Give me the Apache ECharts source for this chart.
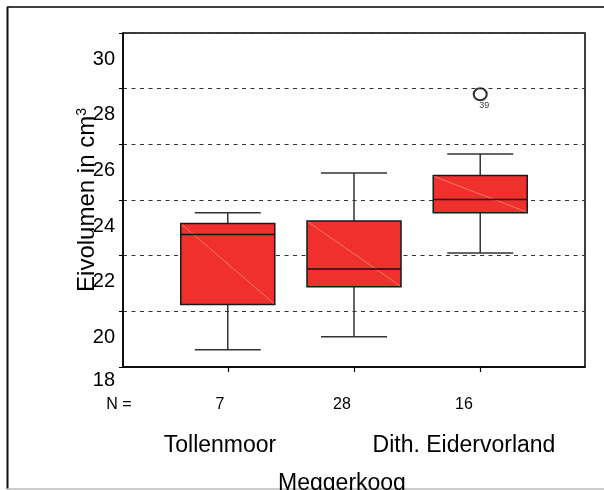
<!DOCTYPE html>
<html>
<head>
<meta charset="utf-8">
<script src="https://cdn.jsdelivr.net/npm/echarts@6/dist/echarts.min.js"></script>
<style>
    html, body { margin: 0; padding: 0; background: #fff; }
    #chart { width: 604px; height: 490px; }
</style>
</head>
<body>
<div id="chart"></div>
<script>
    // Boxplot: Eivolumen per Gebiet
    const categories = ['Tollenmoor', 'Meggerkoog', 'Dith. Eidervorland'];
    const counts = [7, 28, 16];
    const lowWhisker = [18.62, 19.09, 22.10];
    const q1 = [20.25, 20.88, 23.54];
    const median = [22.76, 21.52, 24.02];
    const q3 = [23.16, 23.25, 24.88];
    const highWhisker = [23.54, 24.97, 25.65];
    // outlier: [group position, value, case number]
    const outliers = [[3, 27.8, '39']];
    const yTicks = [18, 20, 22, 24, 26, 28, 30];

    const font = 'Liberation Sans';
    const boxData = categories.map(function (c, i) {
        return [i + 1, lowWhisker[i], q1[i], median[i], q3[i], highWhisker[i]];
    });

    function renderBox(params, api) {
        const x = api.value(0);
        const pLow = api.coord([x, api.value(1)]);
        const pQ1 = api.coord([x, api.value(2)]);
        const pMed = api.coord([x, api.value(3)]);
        const pQ3 = api.coord([x, api.value(4)]);
        const pHigh = api.coord([x, api.value(5)]);
        const cx = pLow[0];
        const hw = 47;   // half box width
        const cw = 33;   // half cap width
        const whisker = { stroke: '#333', lineWidth: 1.5 };
        return {
            type: 'group',
            children: [
                { type: 'line', shape: { x1: cx, y1: pQ3[1], x2: cx, y2: pHigh[1] }, style: whisker },
                { type: 'line', shape: { x1: cx - cw, y1: pHigh[1], x2: cx + cw, y2: pHigh[1] }, style: whisker },
                { type: 'line', shape: { x1: cx, y1: pQ1[1], x2: cx, y2: pLow[1] }, style: whisker },
                { type: 'line', shape: { x1: cx - cw, y1: pLow[1], x2: cx + cw, y2: pLow[1] }, style: whisker },
                {
                    type: 'rect',
                    shape: { x: cx - hw, y: pQ3[1], width: hw * 2, height: pQ1[1] - pQ3[1] },
                    style: { fill: '#ef302c', stroke: '#1a1a1a', lineWidth: 1.5 }
                },
                {
                    type: 'line',
                    shape: { x1: cx - hw + 1, y1: pQ3[1] + 1, x2: cx + hw - 1, y2: pQ1[1] - 1 },
                    style: { stroke: '#f7877d', lineWidth: 0.8 }
                },
                { type: 'line', shape: { x1: cx - hw, y1: pMed[1], x2: cx + hw, y2: pMed[1] }, style: { stroke: '#111', lineWidth: 1.5 } }
            ]
        };
    }

    // label-only axis shared settings (labels sit a little left of the boxes, like the original)
    function labelAxis(values, margin, formatter, rich) {
        return {
            type: 'value', min: 0.205, max: 3.992, position: 'bottom', offset: 0,
            axisLine: { show: false }, axisTick: { show: false }, splitLine: { show: false },
            axisLabel: {
                show: true, customValues: values, margin: margin, hideOverlap: false,
                formatter: formatter, rich: rich
            }
        };
    }

    var myChart = echarts.init(document.getElementById('chart'));
    myChart.setOption({
        animation: false,
        backgroundColor: '#fff',
        textStyle: { fontFamily: font, color: '#000' },
        grid: {
            left: 123, top: 33, width: 462, height: 334,
            show: true, borderColor: '#000', borderWidth: 1.5,
            containLabel: false, outerBoundsMode: 'none'
        },
        xAxis: [
            {
                type: 'value', min: 0.17, max: 3.83, position: 'bottom',
                axisLine: { show: true, lineStyle: { color: '#000', width: 1.5 } },
                axisTick: { show: true, customValues: [1, 2, 3], length: 5, lineStyle: { color: '#000', width: 1.2 } },
                axisLabel: { show: false },
                splitLine: { show: false }
            },
            labelAxis([0.2706, 1, 2, 3], 16, function (v) {
                if (v < 0.5) return '{p|N =}';
                const i = Math.round(v) - 1;
                if (i === 1) return '{n|' + counts[i] + '}';
                return '{n|' + counts[i] + '}\n{c|' + categories[i] + '}';
            }, {
                p: { fontSize: 16, lineHeight: 44, fontFamily: font, color: '#000', padding: [0, 24, 0, 0] },
                n: { fontSize: 16, lineHeight: 44, fontFamily: font, color: '#000' },
                c: { fontSize: 23, lineHeight: 38, fontFamily: font, color: '#000' }
            }),
            labelAxis([2], 98, function (v) {
                return '{c|' + categories[Math.round(v) - 1] + '}';
            }, {
                c: { fontSize: 23, lineHeight: 38, fontFamily: font, color: '#000' }
            })
        ],
        yAxis: {
            type: 'value', min: yTicks[0], max: yTicks[yTicks.length - 1], interval: 2,
            axisLine: { show: true, lineStyle: { color: '#000', width: 1.5 } },
            axisTick: { show: true, length: 4, lineStyle: { color: '#000' } },
            splitLine: { show: true, lineStyle: { color: '#333', width: 1, type: [4, 4.5] } },
            axisLabel: {
                margin: 8, fontSize: 20,
                formatter: function (v) {
                    return v === 18 ? '{s|' + v + '}' : '{d|' + v + '}';
                },
                rich: {
                    d: { fontSize: 20, fontFamily: font, color: '#000', padding: [52, 0, 0, 0] },
                    s: { fontSize: 20, fontFamily: font, color: '#000', padding: [26, 0, 0, 0] }
                }
            },
            name: 'Eivolumen in cm{sup|3}', nameLocation: 'middle', nameRotate: 90, nameGap: 23,
            nameMoveOverlap: false,
            nameTextStyle: {
                fontSize: 24, fontFamily: font, color: '#000',
                rich: { sup: { fontSize: 14, fontFamily: font, color: '#000', padding: [0, 0, 11, 0] } }
            }
        },
        series: [
            {
                type: 'custom', xAxisIndex: 0, yAxisIndex: 0,
                renderItem: renderBox,
                encode: { x: 0, y: [1, 2, 3, 4, 5] },
                data: boxData
            },
            {
                type: 'scatter', xAxisIndex: 0, yAxisIndex: 0,
                symbol: 'emptyCircle', symbolSize: [13, 12],
                itemStyle: { color: '#000', borderColor: '#000', borderWidth: 1.2 },
                label: {
                    show: true, position: 'bottom', distance: 0, offset: [4, 0],
                    fontSize: 9, fontFamily: font, color: '#000',
                    formatter: function (p) { return p.value[2]; }
                },
                data: outliers
            }
        ],
        graphic: [
            { type: 'line', shape: { x1: 7, y1: 7, x2: 604, y2: 7 }, style: { stroke: '#000', lineWidth: 1.5 } },
            { type: 'line', shape: { x1: 7.5, y1: 7, x2: 7.5, y2: 489 }, style: { stroke: '#111', lineWidth: 2 } },
            { type: 'line', shape: { x1: 7, y1: 489, x2: 604, y2: 489 }, style: { stroke: '#bbb', lineWidth: 1.5 } }
        ]
    });
</script>
</body>
</html>
